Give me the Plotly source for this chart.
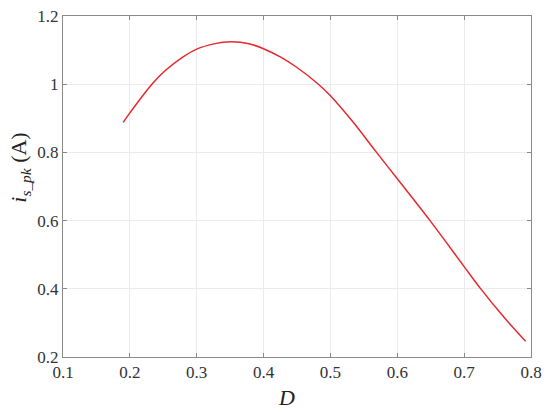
import plotly.graph_objects as go

D = [0.19, 0.20, 0.233, 0.253, 0.278, 0.30, 0.3275, 0.345, 0.365, 0.385, 0.40, 0.425,
     0.45, 0.482, 0.50, 0.535, 0.569, 0.649, 0.70, 0.724, 0.759, 0.792]
i_pk = [0.888, 0.916, 1.0, 1.040, 1.078, 1.103, 1.119, 1.124, 1.123, 1.115, 1.104, 1.080,
        1.049, 1.0, 0.966, 0.886, 0.80, 0.60, 0.465, 0.402, 0.318, 0.246]

x_ticks = [0.1, 0.2, 0.3, 0.4, 0.5, 0.6, 0.7, 0.8]
x_tick_labels = ["0.1", "0.2", "0.3", "0.4", "0.5", "0.6", "0.7", "0.8"]
y_ticks = [0.2, 0.4, 0.6, 0.8, 1.0, 1.2]
y_tick_labels = ["0.2", "0.4", "0.6", "0.8", "1", "1.2"]

fig = go.Figure()
fig.add_trace(go.Scatter(x=D, y=i_pk, mode="lines",
                         line=dict(color="#e8282c", width=1.5, shape="spline", smoothing=1.0),
                         showlegend=False, hoverinfo="skip"))

font = "Times New Roman"
axis_common = dict(showline=True, linecolor="#8a8a8a", linewidth=1, mirror="ticks",
                   ticks="inside", ticklen=4, tickcolor="#8a8a8a", automargin=False,
                   ticklabeloverflow="allow",
                   showgrid=True, gridcolor="#ebebeb", gridwidth=1, zeroline=False,
                   tickfont=dict(family=font, size=17, color="#333333"))

fig.update_xaxes(range=[0.1, 0.8], tickvals=x_ticks, ticktext=x_tick_labels, **axis_common)
fig.update_yaxes(range=[0.2, 1.2], tickvals=y_ticks, ticktext=y_tick_labels, **axis_common)

fig.add_annotation(text="<i>D</i>", xref="paper", yref="paper", x=0.4765, y=-0.12,
                   xanchor="center", yanchor="middle", showarrow=False,
                   font=dict(family=font, size=22, color="#222222"))
fig.add_annotation(text="<i>i</i><sub><i>s_pk</i></sub> (A)", xref="paper", yref="paper",
                   x=-0.092, y=0.555, xanchor="center", yanchor="middle", textangle=-90,
                   showarrow=False, font=dict(family=font, size=22, color="#222222"))

fig.update_layout(width=550, height=416, margin=dict(l=63, r=19, t=16, b=59),
                  plot_bgcolor="white", paper_bgcolor="white")

fig.write_html("out.html", config={"displayModeBar": False},
               post_script="document.body.style.margin='0';")
